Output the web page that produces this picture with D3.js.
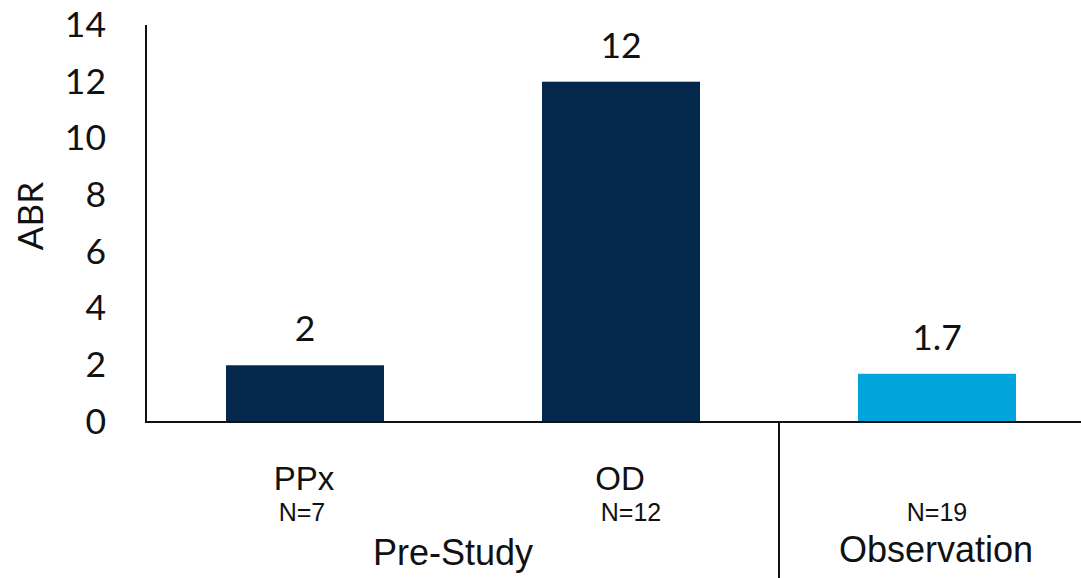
<!DOCTYPE html>
<html>
<head>
<meta charset="utf-8">
<script src="https://cdn.jsdelivr.net/npm/d3@7/dist/d3.min.js"></script>
<style>
  html, body { margin: 0; padding: 0; background: #fff; }
  svg { display: block; }
</style>
</head>
<body>
<svg id="chart" width="1081" height="578"></svg>
<script>
// Annualized bleeding rate by treatment regimen
const categories = ["PPx", "OD", "Observation"];
const abrValues = [2, 12, 1.7];
const sampleSizes = ["N=7", "N=12", "N=19"];
const categoryLabels = ["PPx", "OD", ""];
const groups = ["Pre-Study", "Observation"];
const groupMembers = [["PPx", "OD"], ["Observation"]];
const yTicks = [0, 2, 4, 6, 8, 10, 12, 14];
const barColors = ["#03284c", "#03284c", "#02a4dc"];

const svg = d3.select("#chart");
const W = 1081, H = 578;
const x0 = 147, zeroY = 422;

const x = d3.scaleBand()
  .domain(categories)
  .range([x0, 1095])
  .paddingInner(0.5)
  .paddingOuter(0.25);

const y = d3.scaleLinear().domain([0, 14]).range([zeroY, 25]);

const numFont = "Lato, 'Open Sans', sans-serif";
const catFont = "'Liberation Sans', Arial, sans-serif";

// Y axis: labels only, no tick marks
const yAxis = d3.axisLeft(y).tickValues(yTicks).tickSize(0).tickPadding(41);
const gy = svg.append("g").attr("transform", `translate(${x0},0)`).call(yAxis);
gy.select(".domain").remove();
gy.selectAll("text")
  .attr("font-family", numFont)
  .attr("font-size", 35.5)
  .attr("fill", "#111");

// Axis lines
svg.append("line")
  .attr("x1", x0 - 1).attr("x2", x0 - 1)
  .attr("y1", y(14)).attr("y2", zeroY + 1)
  .attr("stroke", "#111").attr("stroke-width", 2);

// Bars
const data = categories.map((c, i) => ({ cat: c, v: abrValues[i], n: sampleSizes[i], label: categoryLabels[i], color: barColors[i] }));

svg.selectAll("rect.bar")
  .data(data)
  .join("rect")
  .attr("class", "bar")
  .attr("x", d => x(d.cat))
  .attr("width", x.bandwidth())
  .attr("y", d => y(d.v))
  .attr("height", d => y(0) - y(d.v))
  .attr("fill", d => d.color);

svg.append("line")
  .attr("x1", x0 - 1).attr("x2", W)
  .attr("y1", zeroY).attr("y2", zeroY)
  .attr("stroke", "#111").attr("stroke-width", 2);

// Divider between the study groups
const divX = x("OD") + x.bandwidth() + x.step() * x.paddingInner() / 2;
svg.append("line")
  .attr("x1", divX).attr("x2", divX)
  .attr("y1", zeroY).attr("y2", H)
  .attr("stroke", "#111").attr("stroke-width", 2);

// Value labels above bars
svg.selectAll("text.val")
  .data(data)
  .join("text")
  .attr("class", "val")
  .attr("x", d => x(d.cat) + x.bandwidth() / 2)
  .attr("y", d => y(d.v) - 24)
  .attr("text-anchor", "middle")
  .attr("font-family", numFont)
  .attr("font-size", 35.5)
  .attr("fill", "#111")
  .text(d => d.v);

// Category names and sample sizes
const nShift = { "PPx": -3, "OD": 10, "Observation": 0 };
svg.selectAll("text.cat")
  .data(data.filter(d => d.label))
  .join("text")
  .attr("class", "cat")
  .attr("x", d => x(d.cat) + x.bandwidth() / 2 - 1)
  .attr("y", 490)
  .attr("text-anchor", "middle")
  .attr("font-family", catFont)
  .attr("font-size", 33)
  .attr("fill", "#111")
  .text(d => d.label);

svg.selectAll("text.n")
  .data(data)
  .join("text")
  .attr("class", "n")
  .attr("x", d => x(d.cat) + x.bandwidth() / 2 + nShift[d.cat])
  .attr("y", 521)
  .attr("text-anchor", "middle")
  .attr("font-family", catFont)
  .attr("font-size", 25)
  .attr("fill", "#111")
  .text(d => d.n);

// Group labels
const groupCenter = members => {
  const xs = members.map(m => x(m) + x.bandwidth() / 2);
  return (d3.min(xs) + d3.max(xs)) / 2;
};
const groupShift = [-10, -1];
const groupY = [565, 562];
svg.selectAll("text.grp")
  .data(groups)
  .join("text")
  .attr("class", "grp")
  .attr("x", (g, i) => groupCenter(groupMembers[i]) + groupShift[i])
  .attr("y", (g, i) => groupY[i])
  .attr("text-anchor", "middle")
  .attr("font-family", catFont)
  .attr("font-size", 36)
  .attr("fill", "#111")
  .text(g => g);

// Y axis title
svg.append("text")
  .attr("transform", `translate(43,216) rotate(-90)`)
  .attr("text-anchor", "middle")
  .attr("font-family", numFont)
  .attr("font-size", 35)
  .attr("fill", "#111")
  .text("ABR");
</script>
</body>
</html>
